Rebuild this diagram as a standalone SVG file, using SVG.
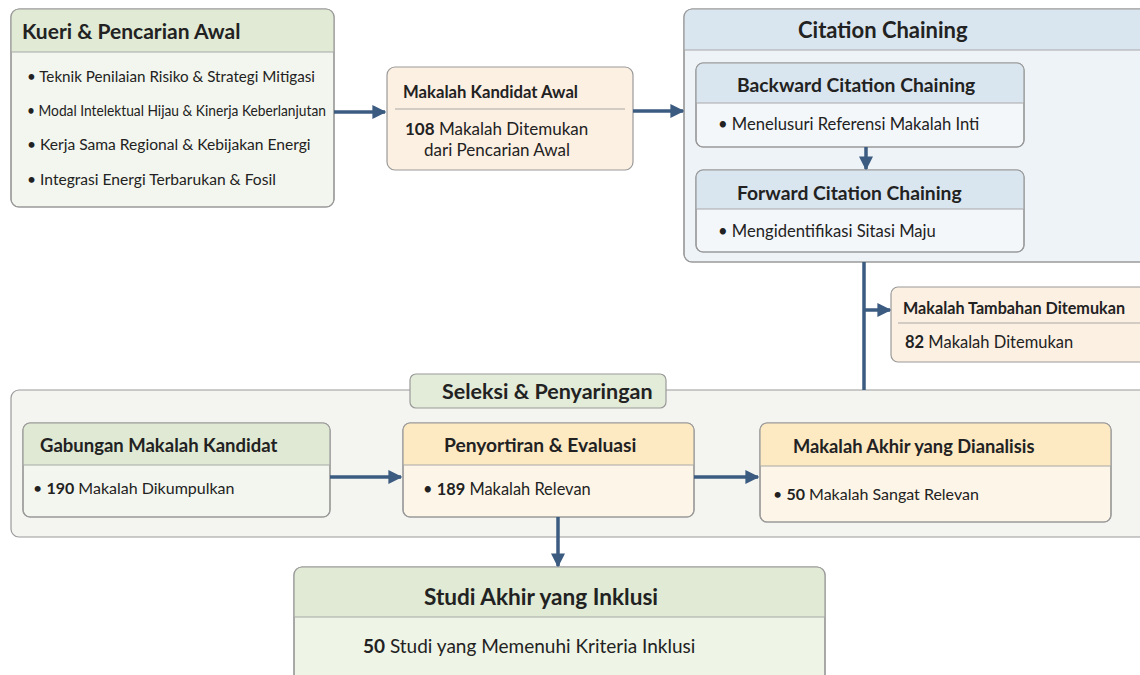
<svg xmlns="http://www.w3.org/2000/svg" width="1140" height="675" viewBox="0 0 1140 675">
<defs>
<marker id="ah" viewBox="0 0 10 10" refX="9" refY="5" markerWidth="4" markerHeight="4" orient="auto" markerUnits="strokeWidth">
<path d="M0,0 L10,5 L0,10 z" fill="#3b5b80"/>
</marker>
<style>
text{font-family:Lato,"Open Sans","Liberation Sans",sans-serif;fill:#222;}
.t{font-weight:bold;font-size:17px;}
.b{font-size:15px;}
.bb{font-weight:bold;}
.box{stroke:#9a9a9a;stroke-width:1.2;}
.sep{stroke:#a8a8a8;stroke-width:1;}
.con{stroke:#3b5b80;stroke-width:3.5;fill:none;}
</style>
</defs>
<rect width="1140" height="675" fill="#ffffff"/>

<g id="kueri">
<rect class="box" x="11" y="9" width="323" height="198" rx="8" fill="#f3f6ee"/>
<path d="M11,52 V17 a8,8 0 0 1 8,-8 H326 a8,8 0 0 1 8,8 V52 z" fill="#e0ead5"/>
<rect x="11" y="9" width="323" height="198" rx="8" fill="none" class="box"/>
<line class="sep" x1="11" y1="52" x2="334" y2="52"/>
<text class="t" x="22" y="39" style="font-size:21px">Kueri &amp; Pencarian Awal</text>
<text class="b" x="27" y="82" textLength="288" lengthAdjust="spacingAndGlyphs">• Teknik Penilaian Risiko &amp; Strategi Mitigasi</text>
<text class="b" x="27" y="116" textLength="299" lengthAdjust="spacingAndGlyphs">• Modal Intelektual Hijau &amp; Kinerja Keberlanjutan</text>
<text class="b" x="27" y="150" style="font-size:15.6px">• Kerja Sama Regional &amp; Kebijakan Energi</text>
<text class="b" x="27" y="185" style="font-size:15.6px">• Integrasi Energi Terbarukan &amp; Fosil</text>
</g>

<g id="kandidat">
<rect class="box" x="387" y="67" width="246" height="103" rx="8" fill="#fcf0e2"/>
<line class="sep" x1="395" y1="109" x2="625" y2="109"/>
<text class="t" x="403" y="98" style="font-size:16.7px">Makalah Kandidat Awal</text>
<text class="b" x="405" y="135" style="font-size:17px"><tspan class="bb">108</tspan> Makalah Ditemukan</text>
<text class="b" x="424" y="156" style="font-size:17px">dari Pencarian Awal</text>
</g>

<g id="citation">
<rect class="box" x="684" y="9" width="470" height="253" rx="8" fill="#eef3f7"/>
<path d="M684,50 V17 a8,8 0 0 1 8,-8 H1154 V50 z" fill="#dae6ef"/>
<rect x="684" y="9" width="470" height="253" rx="8" fill="none" class="box"/>
<line class="sep" x1="684" y1="50" x2="1140" y2="50"/>
<text class="t" x="798" y="38" style="font-size:22px">Citation Chaining</text>
</g>

<g id="backward">
<rect class="box" x="696" y="63" width="328" height="84" rx="7" fill="#f4f7fa"/>
<path d="M696,103 V70 a7,7 0 0 1 7,-7 H1017 a7,7 0 0 1 7,7 V103 z" fill="#dae6ef"/>
<rect x="696" y="63" width="328" height="84" rx="7" fill="none" class="box"/>
<line class="sep" x1="696" y1="103" x2="1024" y2="103"/>
<text class="t" x="737" y="92" style="font-size:19.3px">Backward Citation Chaining</text>
<text class="b" x="718" y="130" style="font-size:16.6px">• Menelusuri Referensi Makalah Inti</text>
</g>

<g id="forward">
<rect class="box" x="696" y="170" width="328" height="82" rx="7" fill="#f4f7fa"/>
<path d="M696,209 V177 a7,7 0 0 1 7,-7 H1017 a7,7 0 0 1 7,7 V209 z" fill="#dae6ef"/>
<rect x="696" y="170" width="328" height="82" rx="7" fill="none" class="box"/>
<line class="sep" x1="696" y1="209" x2="1024" y2="209"/>
<text class="t" x="737" y="200" style="font-size:19.3px">Forward Citation Chaining</text>
<text class="b" x="718" y="237" style="font-size:16.6px">• Mengidentifikasi Sitasi Maju</text>
</g>

<g id="tambahan">
<rect class="box" x="891" y="287" width="260" height="75" rx="7" fill="#fcf0e2"/>
<line class="sep" x1="898" y1="323" x2="1140" y2="323"/>
<text class="t" x="903" y="314" style="font-size:16.2px">Makalah Tambahan Ditemukan</text>
<text class="b" x="905" y="348" style="font-size:16.5px"><tspan class="bb">82</tspan> Makalah Ditemukan</text>
</g>

<g id="seleksi">
<rect class="box" x="11" y="390" width="1140" height="147" rx="8" fill="#f4f5f1"/>
<rect class="box" x="410" y="374" width="256" height="34" rx="6" fill="#e3ebd9"/>
<text class="t" x="442" y="399" style="font-size:21.5px">Seleksi &amp; Penyaringan</text>
</g>

<g id="gabungan">
<rect class="box" x="23" y="423" width="307" height="94" rx="7" fill="#f3f6ee"/>
<path d="M23,465 V430 a7,7 0 0 1 7,-7 H323 a7,7 0 0 1 7,7 V465 z" fill="#dfe9d3"/>
<rect x="23" y="423" width="307" height="94" rx="7" fill="none" class="box"/>
<line class="sep" x1="23" y1="465" x2="330" y2="465"/>
<text class="t" x="40" y="452" style="font-size:18.5px">Gabungan Makalah Kandidat</text>
<text class="b" x="33" y="494" style="font-size:16px">• <tspan class="bb">190</tspan> Makalah Dikumpulkan</text>
</g>

<g id="penyortiran">
<rect class="box" x="403" y="423" width="291" height="94" rx="7" fill="#fdf6e8"/>
<path d="M403,465 V430 a7,7 0 0 1 7,-7 H687 a7,7 0 0 1 7,7 V465 z" fill="#fde9c2"/>
<rect x="403" y="423" width="291" height="94" rx="7" fill="none" class="box"/>
<line class="sep" x1="403" y1="465" x2="694" y2="465"/>
<text class="t" x="444" y="452" style="font-size:19.2px">Penyortiran &amp; Evaluasi</text>
<text class="b" x="423" y="495" style="font-size:16.4px">• <tspan class="bb">189</tspan> Makalah Relevan</text>
</g>

<g id="akhir">
<rect class="box" x="760" y="423" width="351" height="99" rx="7" fill="#fdf6e8"/>
<path d="M760,466 V430 a7,7 0 0 1 7,-7 H1104 a7,7 0 0 1 7,7 V466 z" fill="#fde9c2"/>
<rect x="760" y="423" width="351" height="99" rx="7" fill="none" class="box"/>
<line class="sep" x1="760" y1="466" x2="1111" y2="466"/>
<text class="t" x="793" y="453" style="font-size:18.3px">Makalah Akhir yang Dianalisis</text>
<text class="b" x="773" y="500" style="font-size:16px">• <tspan class="bb">50</tspan> Makalah Sangat Relevan</text>
</g>

<g id="studi">
<rect class="box" x="294" y="567" width="531" height="120" rx="8" fill="#eef4e6"/>
<path d="M294,617 V575 a8,8 0 0 1 8,-8 H817 a8,8 0 0 1 8,8 V617 z" fill="#e0ead4"/>
<rect x="294" y="567" width="531" height="120" rx="8" fill="none" class="box"/>
<line class="sep" x1="294" y1="617" x2="825" y2="617"/>
<text class="t" x="424" y="605" style="font-size:22.6px">Studi Akhir yang Inklusi</text>
<text class="b" x="363" y="653" style="font-size:19px"><tspan class="bb">50</tspan> Studi yang Memenuhi Kriteria Inklusi</text>
</g>

<g id="connectors">
<line class="con" x1="334" y1="112" x2="385" y2="112" marker-end="url(#ah)"/>
<line class="con" x1="633" y1="111" x2="683" y2="111" marker-end="url(#ah)"/>
<line class="con" x1="866" y1="147" x2="866" y2="169" marker-end="url(#ah)"/>
<line class="con" x1="864" y1="262" x2="864" y2="390"/>
<line class="con" x1="864" y1="310" x2="890" y2="310" marker-end="url(#ah)"/>
<line class="con" x1="330" y1="477" x2="401" y2="477" marker-end="url(#ah)"/>
<line class="con" x1="694" y1="477" x2="758" y2="477" marker-end="url(#ah)"/>
<line class="con" x1="558" y1="517" x2="558" y2="566" marker-end="url(#ah)"/>
</g>
</svg>
